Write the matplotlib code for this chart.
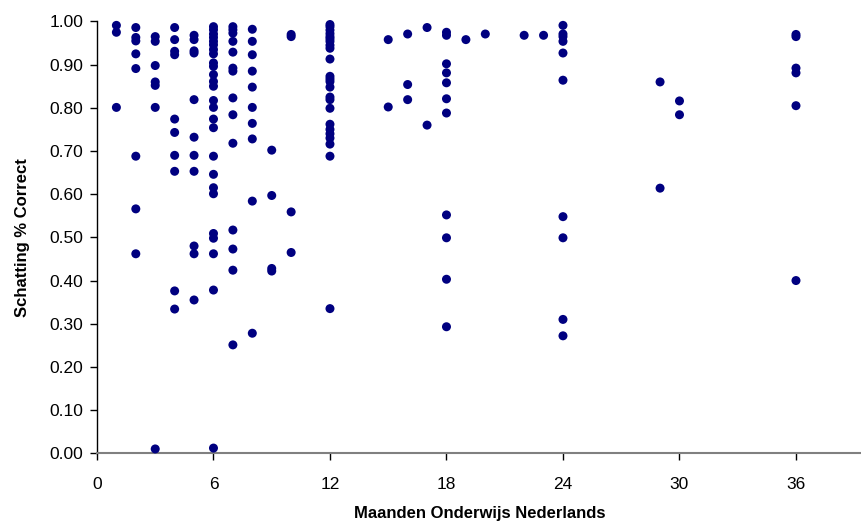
import matplotlib.pyplot as plt

plt.rcParams["font.family"] = ["Liberation Sans", "DejaVu Sans"]

# months of Dutch education -> estimated % correct, grouped per month
months = [1, 2, 3, 4, 5, 6, 7, 8, 9, 10, 12, 15, 16, 17, 18, 19, 20, 22, 23, 24, 29, 30, 36]
scores = [
    [0.991, 0.975, 0.801],
    [0.986, 0.963, 0.955, 0.925, 0.891, 0.688, 0.566, 0.462],
    [0.965, 0.954, 0.898, 0.860, 0.852, 0.801, 0.010],
    [0.986, 0.958, 0.931, 0.923, 0.774, 0.743, 0.690, 0.653, 0.376, 0.334],
    [0.968, 0.958, 0.932, 0.927, 0.819, 0.732, 0.690, 0.653, 0.480, 0.462, 0.355],
    [0.988, 0.981, 0.971, 0.963, 0.954, 0.946, 0.935, 0.925, 0.904, 0.896, 0.877,
     0.861, 0.850, 0.817, 0.801, 0.774, 0.754, 0.688, 0.646, 0.615, 0.601, 0.509,
     0.498, 0.462, 0.378, 0.012],
    [0.988, 0.981, 0.973, 0.954, 0.929, 0.892, 0.885, 0.823, 0.784, 0.718, 0.517,
     0.473, 0.424, 0.251],
    [0.982, 0.954, 0.923, 0.885, 0.848, 0.801, 0.764, 0.728, 0.584, 0.278],
    [0.702, 0.597, 0.428, 0.422],
    [0.970, 0.965, 0.559, 0.465],
    [0.993, 0.988, 0.980, 0.972, 0.965, 0.960, 0.954, 0.945, 0.938, 0.913, 0.873,
     0.867, 0.861, 0.848, 0.825, 0.819, 0.799, 0.762, 0.750, 0.740, 0.730, 0.716,
     0.688, 0.335],
    [0.958, 0.802],
    [0.971, 0.854, 0.819],
    [0.986, 0.760],
    [0.975, 0.968, 0.902, 0.881, 0.858, 0.821, 0.788, 0.552, 0.499, 0.403, 0.293],
    [0.958],
    [0.971],
    [0.968],
    [0.968],
    [0.991, 0.971, 0.965, 0.954, 0.927, 0.864, 0.548, 0.499, 0.310, 0.272],
    [0.860, 0.614],
    [0.816, 0.784],
    [0.970, 0.965, 0.892, 0.881, 0.805, 0.400],
]

xs = []
ys = []
for m, vals in zip(months, scores):
    for v in vals:
        xs.append(m)
        ys.append(v)

fig = plt.figure(figsize=(8.62, 5.24), dpi=100)
ax = fig.add_axes([0.1125, 0.135, 0.8875, 0.824])

ax.scatter(xs, ys, s=42, color="#000080", edgecolors="none", zorder=3, clip_on=False)

ax.set_xlim(0, 39.4)
ax.set_ylim(0, 1.0)
ax.set_xticks(range(0, 37, 6))
ax.set_yticks([i / 10 for i in range(11)])
ax.set_yticklabels([f"{i / 10:.2f}" for i in range(11)])

ax.spines["top"].set_visible(False)
ax.spines["right"].set_visible(False)
ax.spines["left"].set_color("black")
ax.spines["left"].set_linewidth(1.0)
ax.spines["bottom"].set_color("#808080")
ax.spines["bottom"].set_linewidth(1.5)
ax.tick_params(axis="both", direction="out", length=5, width=1, labelsize=12.5, color="black")
ax.tick_params(axis="x", pad=12)
ax.tick_params(axis="y", pad=5)

ax.set_xlabel("Maanden Onderwijs Nederlands", fontsize=12, fontweight="bold", labelpad=10)
ax.set_ylabel("Schatting % Correct", fontsize=12, fontweight="bold", labelpad=14)

fig.savefig("out.png", dpi=100)
